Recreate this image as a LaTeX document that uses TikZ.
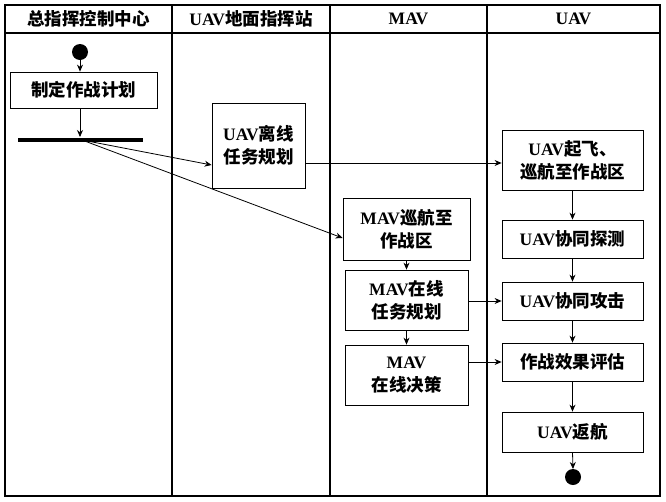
\documentclass[tikz,border=0pt]{standalone}
\usepackage{fontspec}
\setmainfont{Liberation Serif}
\newfontfamily\cjk{Noto Sans CJK SC}
\usetikzlibrary{arrows.meta}
\newcommand\zh[1]{{\cjk\bfseries #1}}
\begin{document}
\begin{tikzpicture}[x=1pt,y=-1pt,
  box/.style={draw,thick,align=center,inner sep=0pt,font=\fontsize{17.5}{23}\selectfont\bfseries},
  arr/.style={-{Stealth[length=7pt,width=6pt]},thick},
  hd/.style={font=\fontsize{17.5}{20}\selectfont\bfseries}]
\useasboundingbox (0,0) rectangle (666,501);
\fill[white] (0,0) rectangle (666,501);
\draw[line width=1.2pt] (5,5) rectangle (660,496);
\draw[line width=1.2pt] (5,33) -- (660,33);
\foreach \x in {172,330,487} \draw[line width=1.2pt] (\x,5) -- (\x,496);
\node[hd] at (88.5,19) {\zh{总指挥控制中心}};
\node[hd] at (251,19) {UAV\zh{地面指挥站}};
\node[hd] at (408.5,19) {MAV};
\node[hd] at (573.5,19) {UAV};
\fill (80,52) circle (8) coordinate (s);
\node[box,minimum width=147,minimum height=36] (p) at (83.5,90) {\zh{制定作战计划}};
\draw[line width=4pt] (18,140) -- (143,140);
\coordinate (f) at (82,140);
\node[box,minimum width=93,minimum height=85] (ul) at (258.5,145.5) {UAV\zh{离线}\\\zh{任务规划}};
\node[box,minimum width=141,minimum height=60] (u1) at (572.5,160) {UAV\zh{起飞、}\\\zh{巡航至作战区}};
\node[box,minimum width=127,minimum height=62] (m1) at (406.5,229) {MAV\zh{巡航至}\\\zh{作战区}};
\node[box,minimum width=141,minimum height=38] (u2) at (572.5,239) {UAV\zh{协同探测}};
\node[box,minimum width=123,minimum height=60] (m2) at (406.5,300) {MAV\zh{在线}\\\zh{任务规划}};
\node[box,minimum width=141,minimum height=38] (u3) at (572.5,301) {UAV\zh{协同攻击}};
\node[box,minimum width=123,minimum height=60] (m3) at (406.5,375) {MAV\\\zh{在线决策}};
\node[box,minimum width=141,minimum height=38] (u4) at (572.5,362) {\zh{作战效果评估}};
\node[box,minimum width=141,minimum height=40] (u5) at (572.5,432) {UAV\zh{返航}};
\fill (573,477) circle (8) coordinate (e);
\draw[arr] (80,60) -- (p.north -| 80,0);
\draw[arr] (p.south -| 80,0) -- (80,137);
\draw[arr] (f) -- (ul.west |- 0,165);
\draw[arr] (f) -- (m1.west |- 0,238);
\draw[arr] (ul.east |- 0,163) -- (u1.west |- 0,163);
\draw[arr] (u1) -- (u2);
\draw[arr] (u2) -- (u3);
\draw[arr] (u3) -- (u4);
\draw[arr] (u4) -- (u5);
\draw[arr] (u5.south) -- (573,469);
\draw[arr] (m1) -- (m2);
\draw[arr] (m2) -- (m3);
\draw[arr] (m2.east |- u3) -- (u3.west);
\draw[arr] (m3.east |- u4) -- (u4.west);
\end{tikzpicture}
\end{document}
